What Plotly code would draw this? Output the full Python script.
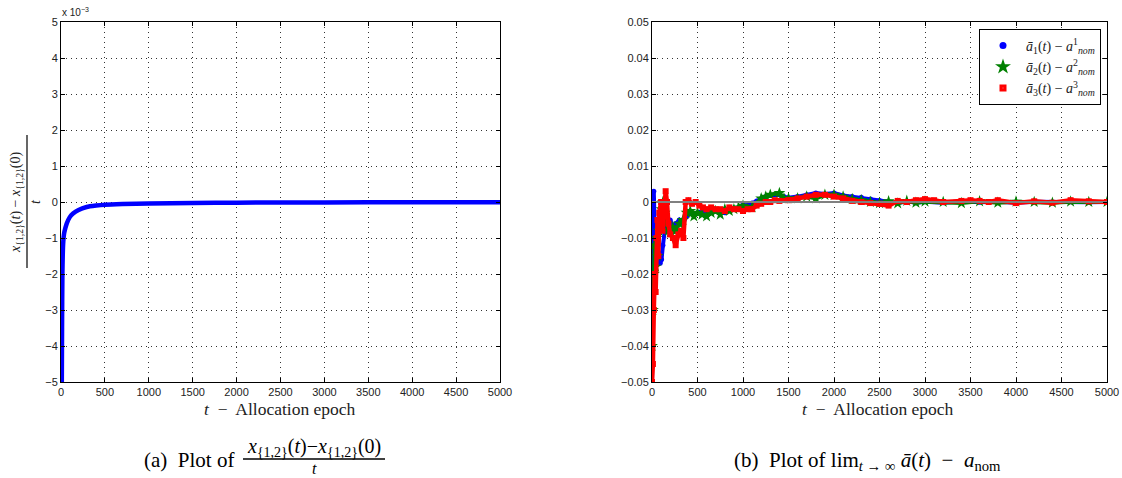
import plotly.graph_objects as go

W, H = 1122, 478

# ---------------- data ----------------
# Left panel: (x_{1,2}(t) - x_{1,2}(0)) / t, in units of 1e-3
t_left = [1, 8, 12, 16, 20, 26, 35, 50, 65, 100, 137, 200, 292, 400, 500, 700,
          1000, 1500, 2000, 3000, 4000, 5000]
x12_left = [-60, -6, -3.5, -2.0, -1.45, -1.1, -0.88, -0.72, -0.6, -0.42, -0.32, -0.22,
            -0.14, -0.10, -0.075, -0.055, -0.04, -0.025, -0.018, -0.012, -0.009, -0.007]

# Right panel: a_bar_i(t) - a_nom^i
t_a1 = [0, 10, 20, 30, 50, 70, 90, 105, 120, 140, 160, 180, 200, 230, 260, 300, 340, 380,
        420, 460, 500, 550, 600, 650, 700, 750, 800, 850, 900, 950, 1000, 1050, 1100, 1150,
        1200, 1250, 1300, 1350, 1400, 1450, 1500, 1600, 1700, 1800, 1900, 2000, 2100, 2200,
        2300, 2400, 2500, 2600, 2700, 2800, 2900, 3000, 3200, 3400, 3600, 3800, 4000, 4200,
        4400, 4600, 4800, 5000]
a1 = [-0.05, -0.02, 0.003, -0.008, -0.012, -0.014, -0.017, -0.016, -0.012, -0.007, -0.004,
      -0.006, -0.005, -0.007, -0.006, -0.005, -0.006, -0.004, -0.003, -0.0035, -0.003,
      -0.0025, -0.003, -0.002, -0.0025, -0.003, -0.003, -0.002, -0.002, -0.0015, -0.0008,
      -0.001, -0.0003, 0.0003, 0.001, 0.0015, 0.0018, 0.002, 0.002, 0.0015, 0.0012, 0.0015,
      0.002, 0.0025, 0.0022, 0.0025, 0.0018, 0.0015, 0.0013, 0.0008, 0.0004, 0.0, -0.0003,
      0.0002, -0.0002, 0.0001, -0.0002, 0.0002, -0.0001, 0.0001, -0.0002, 0.0001, 0.0,
      0.0001, -0.0001, 0.0]

t_a2 = [0, 10, 20, 30, 40, 50, 60, 75, 90, 105, 120, 140, 160, 180, 200, 230, 260, 300, 340,
        380, 420, 460, 500, 550, 600, 650, 700, 750, 800, 850, 900, 950, 1000, 1100, 1200,
        1250, 1300, 1400, 1450, 1500, 1600, 1700, 1800, 1900, 2000, 2100, 2200, 2300, 2400,
        2500, 2600, 2700, 2800, 2900, 3000, 3200, 3400, 3600, 3800, 4000, 4200, 4400, 4600,
        4800, 5000]
a2 = [-0.04, -0.03, -0.02, -0.012, -0.018, -0.01, -0.015, -0.008, -0.005, -0.002, 0.0,
      -0.003, -0.006, -0.008, -0.0085, -0.007, -0.008, -0.006, -0.005, -0.003, -0.0025,
      -0.004, -0.003, -0.0035, -0.004, -0.003, -0.0025, -0.0035, -0.002, -0.0025, -0.002,
      -0.0015, -0.001, -0.0015, 0.001, 0.0015, 0.002, 0.0025, 0.001, 0.001, 0.001, 0.0015,
      0.001, 0.002, 0.002, 0.0015, 0.0008, 0.0005, 0.0, -0.0003, 0.0002, -0.0004, 0.0003,
      -0.0002, 0.0001, 0.0, -0.0003, 0.0002, -0.0002, 0.0001, 0.0, -0.0002, 0.0001, 0.0, 0.0]

t_a3 = [0, 10, 20, 30, 40, 50, 60, 70, 80, 100, 115, 130, 150, 165, 180, 200, 230, 260, 290,
        320, 345, 370, 400, 440, 480, 520, 560, 600, 650, 700, 750, 800, 850, 900, 950, 1000,
        1050, 1100, 1150, 1200, 1250, 1300, 1350, 1400, 1500, 1600, 1700, 1800, 1900, 2000,
        2100, 2200, 2300, 2400, 2500, 2600, 2700, 2800, 2900, 3000, 3100, 3200, 3400, 3500,
        3600, 3700, 3800, 4000, 4200, 4400, 4600, 4800, 5000]
a3 = [-0.05, -0.045, -0.03, -0.02, -0.025, -0.01, -0.005, -0.015, -0.003, 0.0, -0.008,
      -0.004, 0.003, 0.0, -0.006, -0.009, -0.01, -0.012, -0.009, -0.008, -0.01, 0.0, 0.0005,
      -0.0005, 0.0, -0.001, -0.0015, -0.002, -0.0015, -0.002, -0.002, -0.0025, -0.0015,
      -0.002, -0.002, -0.0025, -0.002, -0.002, -0.001, -0.0005, 0.0, 0.0, 0.0005, 0.0003,
      0.0005, 0.001, 0.0015, 0.002, 0.002, 0.0015, 0.001, 0.0003, 0.0, -0.0003, -0.0005,
      -0.001, 0.0003, 0.0, 0.0005, 0.0008, 0.0005, 0.0, 0.0003, 0.0005, 0.0003, 0.0, 0.0005,
      -0.0003, 0.0002, -0.0002, 0.0005, 0.0002, 0.0]

x_ticks = [0, 500, 1000, 1500, 2000, 2500, 3000, 3500, 4000, 4500, 5000]
y_ticks_left = [-5, -4, -3, -2, -1, 0, 1, 2, 3, 4, 5]
y_ticks_right = [-0.05, -0.04, -0.03, -0.02, -0.01, 0, 0.01, 0.02, 0.03, 0.04, 0.05]
y_ticklabels_right = ["\u22120.05", "\u22120.04", "\u22120.03", "\u22120.02", "\u22120.01",
                      "0", "0.01", "0.02", "0.03", "0.04", "0.05"]

legend_names = ["<i>ā</i><sub>1</sub>(<i>t</i>) − <i>a</i><sup>1</sup><sub><i>nom</i></sub>",
                "<i>ā</i><sub>2</sub>(<i>t</i>) − <i>a</i><sup>2</sup><sub><i>nom</i></sub>",
                "<i>ā</i><sub>3</sub>(<i>t</i>) − <i>a</i><sup>3</sup><sub><i>nom</i></sub>"]

# ---------------- figure ----------------
def px_x(x):
    return x / W

def px_y(y):
    return 1 - y / H

fig = go.Figure()

fig.add_trace(go.Scatter(x=t_left, y=x12_left, mode="lines",
                         line=dict(color="#0000ff", width=4.5, shape="spline",
                                   smoothing=0.6),
                         showlegend=False, xaxis="x", yaxis="y"))

BLUE, GREEN, RED = "#0000ff", "#008000", "#ff0000"
fig.add_trace(go.Scatter(x=t_a1, y=a1, mode="lines+markers",
                         line=dict(color=BLUE, width=4),
                         marker=dict(symbol="circle", size=5, color=BLUE),
                         showlegend=False, xaxis="x2", yaxis="y2"))
fig.add_trace(go.Scatter(x=t_a2, y=a2, mode="lines+markers",
                         line=dict(color=GREEN, width=4),
                         marker=dict(symbol="star", size=9, color=GREEN),
                         showlegend=False, xaxis="x2", yaxis="y2"))
fig.add_trace(go.Scatter(x=t_a3, y=a3, mode="lines+markers",
                         line=dict(color=RED, width=4.5),
                         marker=dict(symbol="square", size=6, color=RED),
                         showlegend=False, xaxis="x2", yaxis="y2"))
# zero reference line
fig.add_trace(go.Scatter(x=[0, 5000], y=[0, 0], mode="lines",
                         line=dict(color="#808080", width=2), showlegend=False,
                         hoverinfo="skip", xaxis="x2", yaxis="y2"))

# legend-only entries (markers only)
for name, sym, col, sz in zip(legend_names, ["circle", "star", "square-dot"],
                              [BLUE, GREEN, RED], [7, 12, 7]):
    fig.add_trace(go.Scatter(x=[None], y=[None], mode="markers", name=name,
                             marker=dict(symbol=sym, size=sz, color=col,
                                         line=dict(color="white", width=0)),
                             xaxis="x2", yaxis="y2"))

tickfont = dict(family="Liberation Sans, Arial", size=11, color="#222")
GRID = dict(showgrid=True, gridcolor="#333", griddash="1px,4px", gridwidth=1)
common_x = dict(range=[0, 5000], tickvals=x_ticks, showline=True, linecolor="black",
                linewidth=1, mirror="ticks", ticks="inside", ticklen=4,
                tickcolor="black", tickfont=tickfont, zeroline=False,
                automargin=False, **GRID)
common_y = dict(showline=True, linecolor="black", linewidth=1, mirror="ticks",
                ticks="inside", ticklen=4, tickcolor="black", tickfont=tickfont,
                zeroline=False, automargin=False, **GRID)

y_dom = [px_y(382), px_y(22)]
fig.update_layout(
    width=W, height=H,
    margin=dict(l=0, r=0, t=0, b=0, autoexpand=False),
    paper_bgcolor="white", plot_bgcolor="white",
    xaxis=dict(domain=[px_x(61), px_x(500)], anchor="y", **common_x),
    yaxis=dict(domain=y_dom, anchor="x", range=[-5, 5], tickvals=y_ticks_left,
               **common_y),
    xaxis2=dict(domain=[px_x(652), px_x(1107)], anchor="y2", **common_x),
    yaxis2=dict(domain=y_dom, anchor="x2", range=[-0.05, 0.05], tickvals=y_ticks_right,
                ticktext=y_ticklabels_right, **common_y),
    legend=dict(x=px_x(1101), y=px_y(29), xanchor="right", yanchor="top",
                bgcolor="white", bordercolor="black", borderwidth=1,
                font=dict(family="Liberation Serif", size=14, color="#222"),
                tracegroupgap=0, itemwidth=36),
    showlegend=True,
)

serif = "Liberation Serif, Times New Roman, serif"
ann = []

def add_ann(x, y, text, size, color="#222", family=serif, xanchor="center",
            angle=0):
    ann.append(dict(x=px_x(x), y=px_y(y), xref="paper", yref="paper", text=text,
                    xanchor=xanchor, yanchor="middle", textangle=angle,
                    showarrow=False, font=dict(family=family, size=size, color=color)))

# axis labels
add_ann(280, 409, "<i>t</i>  −  Allocation epoch", 17.5)
add_ann(878, 409, "<i>t</i>  −  Allocation epoch", 17.5)
# exponent label
add_ann(60, 12, "x 10<sup>−3</sup>", 10, family="Liberation Sans, Arial",
        xanchor="left")
# left y label (rotated fraction)
add_ann(17, 202, "<i>x</i><sub>{1,2}</sub>(<i>t</i>) − <i>x</i><sub>{1,2}</sub>(0)",
        14, angle=-90)
add_ann(36, 202, "<i>t</i>", 14, angle=-90)
# captions
add_ann(236, 460, "(a)\u00a0\u00a0Plot of", 21, color="black", xanchor="right")
add_ann(314, 447, "<i>x</i><sub>{1,2}</sub>(<i>t</i>)−<i>x</i><sub>{1,2}</sub>(0)",
        20, color="black")
add_ann(314, 468, "<i>t</i>", 16, color="black")
add_ann(868, 461,
        "(b)\u00a0\u00a0Plot of\u00a0lim<sub><i>t</i>\u00a0→\u00a0∞</sub>\u00a0<i>ā</i>(<i>t</i>)\u00a0\u00a0−\u00a0\u00a0<i>a</i><sub>nom</sub>",
        21, color="black")
fig.update_layout(annotations=ann)

fig.update_layout(shapes=[
    dict(type="line", xref="paper", yref="paper", x0=px_x(27), x1=px_x(27),
         y0=px_y(135), y1=px_y(268), line=dict(color="black", width=1.2)),
    dict(type="line", xref="paper", yref="paper", x0=px_x(243), x1=px_x(385),
         y0=px_y(459), y1=px_y(459), line=dict(color="black", width=1.5)),
])

fig.write_html("out.html", config={"displayModeBar": False},
               post_script="document.body.style.margin='0';"
                           "document.body.style.overflow='hidden';")
